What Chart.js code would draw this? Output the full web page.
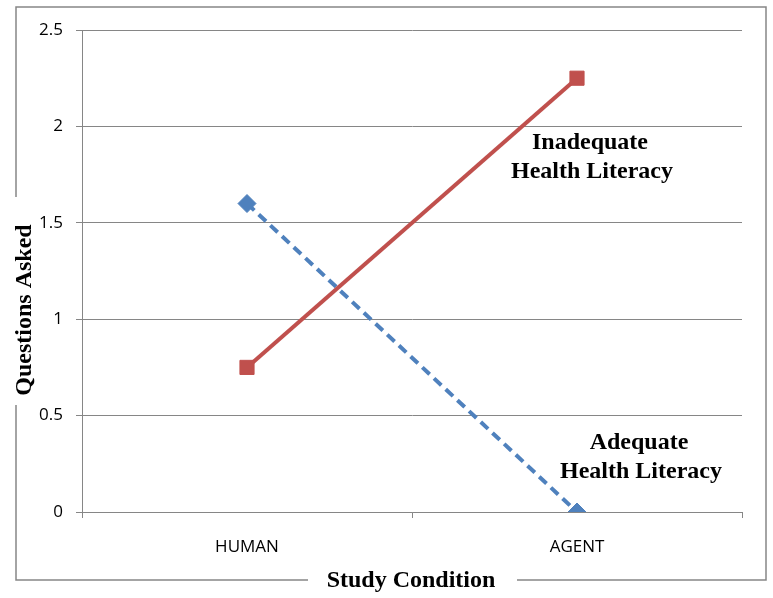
<!DOCTYPE html>
<html>
<head>
<meta charset="utf-8">
<script src="https://cdn.jsdelivr.net/npm/chart.js@4.4.1/dist/chart.umd.min.js"></script>
<style>
  html, body { margin: 0; padding: 0; background: #fff; }
  #wrap { width: 773px; height: 598px; }
</style>
</head>
<body>
<div id="wrap"><canvas id="grafica"></canvas></div>
<script>
// datos
const condiciones = ["HUMAN", "AGENT"];
const inadecuada = [0.75, 2.25];
const adecuada = [1.6, 0];
const nombresSeries = ["Inadequate Health Literacy", "Adequate Health Literacy"];
const ticksY = [0, 0.5, 1, 1.5, 2, 2.5];
const tituloX = "Study Condition";
const tituloY = "Questions Asked";

const gris = "#868686";
const fuenteTitulo = "bold 24px 'Liberation Serif', 'Times New Roman', serif";

// marco exterior con huecos para los titulos + textos de ejes y series
const marco = {
  id: "marco",
  beforeDraw(chart) {
    const c = chart.ctx;
    c.save();
    c.fillStyle = "#fff";
    c.fillRect(0, 0, chart.width, chart.height);
    c.strokeStyle = gris;
    c.lineWidth = 1.5;
    c.beginPath();
    // arriba y derecha
    c.moveTo(16, 197);
    c.lineTo(16, 7);
    c.lineTo(766, 7);
    c.lineTo(766, 580);
    c.lineTo(517, 580);
    // abajo izquierda
    c.moveTo(308, 580);
    c.lineTo(16, 580);
    c.lineTo(16, 405);
    c.stroke();
    c.restore();
  },
  afterDraw(chart) {
    const c = chart.ctx;
    const x = chart.scales.x;
    c.save();
    c.fillStyle = "#000";
    c.font = fuenteTitulo;
    c.textAlign = "center";
    c.textBaseline = "alphabetic";
    c.fillText(tituloX, 411, 587);
    c.save();
    c.translate(31, 310);
    c.rotate(-Math.PI / 2);
    c.fillText(tituloY, 0, 0);
    c.restore();

    // etiquetas de las series
    const partes1 = nombresSeries[0].split(" ");
    const partes2 = nombresSeries[1].split(" ");
    const px = x.getPixelForValue(1);
    c.fillText(partes1[0], px + 13, 149);
    c.fillText(partes1.slice(1).join(" "), px + 15, 178);
    c.fillText(partes2[0], px + 62, 449);
    c.fillText(partes2.slice(1).join(" "), px + 64, 478);
    c.restore();
  }
};

new Chart(document.getElementById("grafica"), {
  type: "line",
  data: {
    labels: condiciones,
    datasets: [
      {
        label: nombresSeries[0],
        data: inadecuada,
        borderColor: "#C0504D",
        backgroundColor: "#C0504D",
        borderWidth: 4,
        pointStyle: "rect",
        pointRadius: 10,
        pointBorderWidth: 1,
        pointHoverRadius: 10
      },
      {
        label: nombresSeries[1],
        data: adecuada,
        borderColor: "#4F81BD",
        backgroundColor: "#4F81BD",
        borderWidth: 4,
        borderDash: [10, 6],
        pointStyle: "rectRot",
        pointRadius: 9,
        pointBorderWidth: 1,
        pointHoverRadius: 9
      }
    ]
  },
  options: {
    responsive: true,
    maintainAspectRatio: false,
    animation: false,
    layout: { padding: { top: 30, right: 31, left: 0, bottom: 0 } },
    plugins: {
      legend: { display: false },
      tooltip: { enabled: false }
    },
    scales: {
      x: {
        offset: true,
        grid: { offset: true, drawOnChartArea: false, color: gris, tickLength: 6 },
        border: { color: gris, width: 1 },
        ticks: {
          color: "#000",
          padding: 19,
          font: { family: "'Open Sans', sans-serif", size: 17 }
        },
        afterFit(s) { s.height = 86; }
      },
      y: {
        min: 0,
        max: 2.5,
        afterBuildTicks(s) { s.ticks = ticksY.map((v) => ({ value: v })); },
        grid: { color: gris, tickLength: 6 },
        border: { color: gris, width: 1 },
        ticks: {
          color: "#000",
          padding: 13,
          font: { family: "'Open Sans', sans-serif", size: 17 },
          callback: (v) => String(v)
        },
        afterFit(s) { s.width = 82; }
      }
    }
  },
  plugins: [marco]
});
</script>
</body>
</html>
